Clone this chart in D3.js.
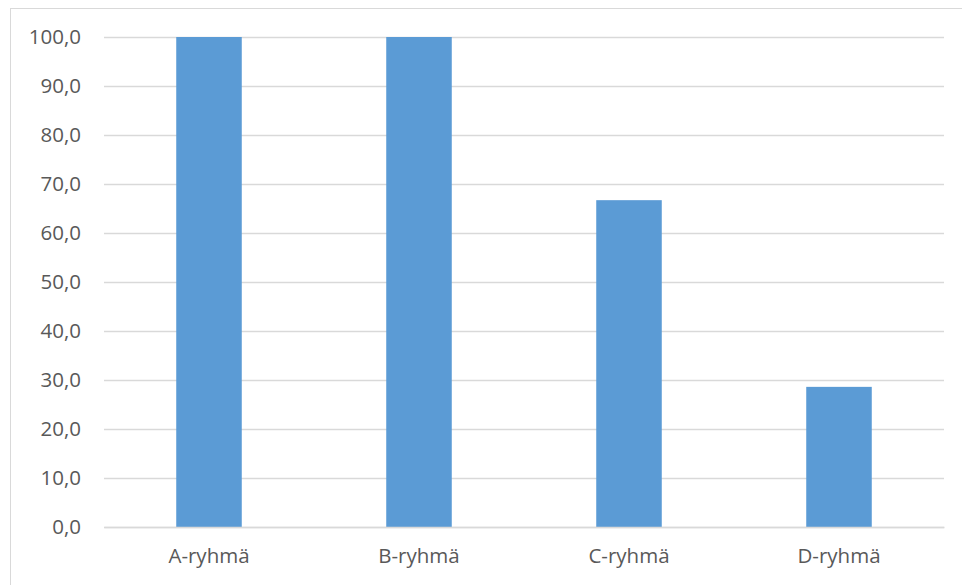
<!DOCTYPE html>
<html>
<head>
<meta charset="utf-8">
<script src="https://cdn.jsdelivr.net/npm/d3@7"></script>
<style>
  body { margin: 0; background: #fff; }
  text { font-family: "Open Sans", sans-serif; fill: #595959; }
</style>
</head>
<body>
<svg id="chart" width="962" height="585"></svg>
<script>
// values
var categories = ['A-ryhmä', 'B-ryhmä', 'C-ryhmä', 'D-ryhmä'];
var values = [100.0, 100.0, 66.7, 28.6];
var yTicks = [0, 10, 20, 30, 40, 50, 60, 70, 80, 90, 100];

var svg = d3.select('#chart');
var margin = {left: 104, right: 18, top: 37, bottom: 58};
var width = 962 - margin.left - margin.right,
    height = 585 - margin.top - margin.bottom;

// outer chart frame
svg.append('rect')
  .attr('x', 10.5).attr('y', 8.5)
  .attr('width', 962).attr('height', 600)
  .attr('fill', 'none')
  .attr('stroke', '#d9d9d9')
  .attr('stroke-width', 1);

var g = svg.append('g')
  .attr('transform', 'translate(' + margin.left + ',' + margin.top + ')');

var x = d3.scaleBand()
  .domain(categories)
  .range([0, width])
  .paddingInner(0.688)
  .paddingOuter(0.344);

var y = d3.scaleLinear()
  .domain([0, 100])
  .range([height, 0]);

var fmt = function (d) { return d3.format('.1f')(d).replace('.', ','); };

// gridlines + y labels
var yAxis = g.append('g')
  .call(d3.axisLeft(y).tickValues(yTicks).tickSize(-width).tickFormat(fmt).tickPadding(23));
yAxis.select('.domain').remove();
yAxis.selectAll('line')
  .attr('stroke', '#d9d9d9')
  .attr('stroke-width', 1.3);
yAxis.selectAll('text')
  .attr('font-size', '20.5px')
  .attr('fill', '#595959')
  .style('font-family', '"Open Sans", sans-serif');

g.selectAll('rect.bar').data(values)
  .enter().append('rect')
  .attr('class', 'bar')
  .attr('x', function (d, i) { return x(categories[i]); })
  .attr('y', function (d) { return y(d); })
  .attr('width', x.bandwidth())
  .attr('height', function (d) { return height - y(d); })
  .attr('fill', '#5b9bd5');

var xAxis = g.append('g')
  .attr('transform', 'translate(0,' + height + ')')
  .call(d3.axisBottom(x).tickSize(0).tickPadding(21));
xAxis.select('.domain')
  .attr('stroke', '#d9d9d9')
  .attr('stroke-width', 1.3);
xAxis.selectAll('text')
  .attr('font-size', '20.5px')
  .attr('fill', '#595959')
  .style('font-family', '"Open Sans", sans-serif');
</script>
</body>
</html>
